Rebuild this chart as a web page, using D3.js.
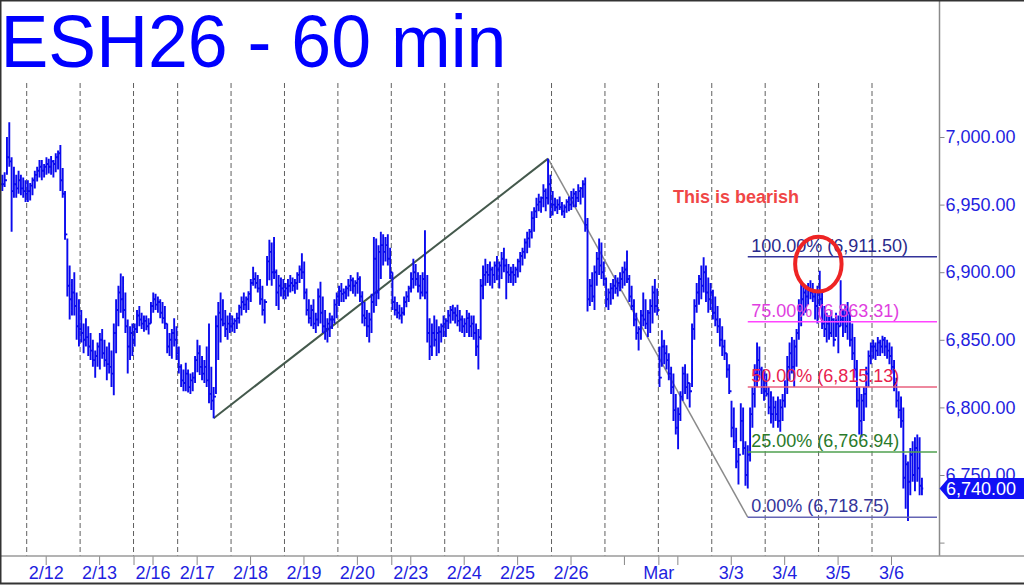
<!DOCTYPE html>
<html><head><meta charset="utf-8">
<script src="https://cdn.jsdelivr.net/npm/d3@7"></script>
<style>
body{margin:0;background:#fff}
svg{display:block}
text{font-family:"Liberation Sans",Arial,sans-serif}
</style>
</head><body>
<svg id="c" width="1024" height="585"></svg>
<script>
// ---------------- DATA ----------------
const titleText = "ESH26 - 60 min";
const sessions      = ["2/11","2/12","2/13","2/16","2/17","2/18","2/19","2/20","2/23","2/24","2/25","2/26","2/27","3/2","3/3","3/4","3/5","3/6"];
const sessionBars   = [11,23,23,19,23,23,23,23,23,23,23,23,23,23,23,23,23,22];
const dayTickLabels = [null,"2/12","2/13","2/16","2/17","2/18","2/19","2/20","2/23","2/24","2/25","2/26","","","3/3","3/4","3/5","3/6"];
const weekStartSessions = ["2/16","2/23","3/2"];
const monthLabels = {"3/2":"Mar"};

const highs = [
6972,6974,7000,7011,6985,6978,6972,6975,6972,6970,6968,
6968,6966,6970,6975,6978,6983,6983,6980,6985,6984,6986,6983,6988,6990,6994,6977,6960,6925,6905,6895,6900,6885,6880,
6872,6862,6866,6860,6855,6850,6842,6848,6855,6858,6850,6845,6848,6842,6862,6880,6890,6899,6897,6885,6865,6860,6862,
6862,6872,6875,6870,6868,6868,6866,6878,6885,6884,6882,6880,6878,6875,6862,6855,6858,6866,6860,
6845,6832,6828,6833,6828,6825,6826,6838,6850,6846,6838,6835,6845,6862,6830,6815,6868,6878,6885,6880,6872,6868,6870,
6868,6866,6870,6876,6882,6885,6882,6886,6895,6904,6900,6898,6895,6890,6880,6912,6924,6922,6926,6902,6898,6896,6895,
6892,6895,6898,6896,6895,6900,6905,6914,6908,6888,6880,6876,6880,6870,6888,6893,6882,6872,6866,6870,6868,6880,6885,
6890,6892,6888,6890,6895,6898,6896,6894,6900,6897,6886,6878,6872,6870,6884,6926,6925,6920,6930,6928,6926,6928,6918,
6900,6882,6878,6876,6874,6882,6886,6890,6900,6910,6906,6900,6898,6900,6931,6898,6866,6862,6868,6865,6860,6862,6868,
6866,6872,6875,6876,6874,6876,6872,6868,6866,6872,6870,6868,6868,6862,6858,6895,6905,6910,6906,6908,6904,6908,6912,
6908,6915,6918,6910,6906,6904,6906,6904,6910,6915,6918,6925,6930,6932,6945,6948,6955,6958,6956,6965,6962,6984,6972,
6960,6955,6954,6956,6952,6950,6954,6956,6960,6962,6960,6965,6963,6968,6970,6940,6895,6900,6905,6915,6925,6922,6908,
6896,6888,6892,6895,6898,6896,6900,6904,6908,6916,6898,6890,6880,6870,6860,6872,6885,6880,6872,6880,6890,6895,6888,
6845,6857,6850,6846,6840,6830,6825,6810,6800,6812,6830,6832,6825,6818,6862,6880,6892,6898,6905,6911,6905,6896,6892,
6887,6882,6875,6866,6860,6850,6840,6832,6805,6800,6785,6770,6803,6800,6775,6772,6800,6815,6832,6848,6845,6830,6828,
6825,6815,6812,6808,6805,6808,6806,6810,6820,6838,6848,6852,6850,6858,6880,6892,6890,6888,6892,6894,6892,6885,6890,
6901,6885,6875,6870,6868,6872,6866,6870,6868,6894,6872,6876,6878,6870,6862,6852,6835,6815,6810,6815,6830,6842,6848,
6850,6848,6852,6850,6853,6852,6850,6848,6845,6835,6822,6812,6808,6800,6765,6760,6770,6775,6778,6780,6778,6748
];
const lows = [
6960,6963,6972,6978,6930,6955,6955,6958,6957,6955,6952,
6952,6953,6957,6962,6967,6970,6968,6970,6972,6973,6972,6970,6974,6976,6960,6955,6924,6882,6865,6868,6868,6850,6845,
6848,6840,6845,6838,6835,6830,6822,6830,6828,6836,6830,6820,6825,6815,6809,6840,6860,6870,6866,6855,6825,6835,6838,
6845,6855,6860,6858,6856,6857,6854,6862,6870,6872,6870,6866,6862,6858,6840,6838,6836,6845,6835,
6825,6815,6812,6812,6811,6810,6812,6818,6826,6824,6820,6818,6815,6803,6798,6792,6810,6835,6848,6860,6852,6850,6855,
6856,6855,6858,6862,6868,6872,6870,6872,6878,6890,6888,6885,6876,6868,6862,6890,6894,6890,6895,6875,6872,6882,6880,
6880,6882,6885,6886,6884,6887,6892,6895,6880,6868,6862,6860,6858,6855,6860,6862,6855,6850,6848,6852,6858,6862,6866,
6875,6878,6878,6880,6882,6886,6884,6882,6884,6878,6862,6860,6852,6848,6855,6870,6875,6880,6895,6905,6908,6905,6895,
6872,6868,6866,6865,6862,6868,6874,6878,6885,6888,6890,6885,6880,6882,6880,6848,6835,6838,6845,6838,6840,6848,6852,
6852,6858,6862,6864,6862,6860,6856,6855,6852,6855,6852,6852,6850,6838,6828,6850,6880,6890,6892,6890,6888,6892,6894,
6888,6895,6900,6880,6892,6892,6890,6892,6896,6900,6905,6910,6914,6918,6925,6930,6940,6945,6944,6948,6945,6950,6940,
6942,6945,6943,6946,6942,6940,6944,6945,6946,6948,6948,6952,6950,6955,6930,6871,6875,6878,6872,6890,6898,6895,6890,
6874,6872,6876,6880,6884,6882,6886,6888,6890,6892,6878,6872,6860,6850,6842,6850,6860,6858,6852,6855,6862,6870,6868,
6815,6830,6832,6828,6820,6810,6790,6780,6769,6790,6805,6810,6806,6800,6815,6850,6870,6876,6880,6885,6878,6870,6872,
6865,6860,6855,6845,6838,6835,6822,6810,6778,6770,6755,6743,6775,6765,6742,6740,6760,6785,6800,6815,6822,6810,6805,
6808,6795,6788,6785,6790,6785,6782,6790,6800,6810,6820,6825,6815,6830,6850,6860,6868,6870,6876,6880,6878,6865,6862,
6875,6858,6852,6848,6850,6852,6845,6852,6840,6860,6852,6855,6850,6845,6835,6822,6800,6780,6778,6790,6800,6815,6832,
6836,6835,6838,6838,6840,6838,6836,6832,6825,6812,6800,6792,6785,6740,6725,6716,6735,6745,6738,6745,6735,6735
];
const closes = [
6965,6968,6985,6982,6960,6965,6962,6968,6962,6960,6958,
6960,6964,6968,6972,6975,6978,6975,6978,6980,6978,6982,6980,6985,6988,6968,6958,6928,6890,6880,6885,6875,6860,6858,
6855,6850,6852,6845,6842,6835,6838,6845,6850,6840,6835,6832,6830,6825,6855,6872,6885,6880,6872,6860,6845,6855,6850,
6858,6868,6865,6862,6864,6860,6862,6875,6880,6876,6878,6870,6866,6862,6845,6850,6855,6850,6840,
6830,6820,6818,6825,6815,6820,6822,6835,6840,6830,6825,6830,6820,6810,6805,6808,6860,6870,6865,6862,6858,6862,6860,
6862,6864,6866,6874,6878,6876,6880,6884,6892,6895,6892,6888,6880,6872,6878,6908,6915,6900,6900,6885,6890,6888,6886,
6888,6890,6892,6890,6892,6898,6902,6900,6885,6872,6866,6872,6862,6865,6882,6870,6860,6858,6862,6865,6865,6876,6882,
6886,6884,6885,6888,6890,6894,6890,6892,6895,6882,6868,6866,6860,6865,6878,6910,6885,6915,6920,6915,6920,6910,6900,
6878,6872,6870,6868,6870,6878,6882,6888,6895,6900,6895,6890,6885,6895,6885,6855,6845,6855,6850,6855,6856,6860,6862,
6864,6868,6872,6870,6868,6864,6865,6860,6862,6866,6860,6862,6855,6845,6852,6890,6898,6900,6898,6902,6898,6905,6902,
6905,6910,6905,6900,6898,6900,6898,6902,6908,6912,6915,6922,6925,6930,6940,6945,6950,6952,6955,6960,6955,6965,6950,
6950,6948,6950,6948,6945,6948,6952,6950,6955,6958,6955,6960,6962,6965,6935,6880,6890,6882,6900,6910,6905,6900,6895,
6880,6885,6888,6890,6888,6892,6895,6900,6902,6895,6882,6875,6865,6855,6858,6868,6865,6862,6870,6875,6885,6875,6872,
6822,6845,6840,6835,6825,6815,6798,6785,6795,6808,6825,6815,6818,6812,6858,6875,6885,6895,6890,6900,6885,6880,6885,
6870,6865,6860,6850,6845,6840,6828,6812,6785,6775,6760,6765,6790,6770,6750,6765,6795,6810,6825,6835,6828,6815,6812,
6810,6800,6795,6800,6795,6790,6800,6805,6815,6830,6840,6830,6845,6855,6875,6880,6885,6882,6888,6885,6882,6875,6885,
6880,6862,6858,6862,6855,6865,6850,6862,6860,6865,6868,6860,6870,6850,6840,6828,6805,6790,6805,6810,6825,6838,6845,
6845,6842,6848,6845,6850,6845,6842,6838,6830,6818,6805,6798,6790,6748,6758,6745,6765,6750,6770,6755,6742,6740
];

const yTickValues = [7000,6950,6900,6850,6800,6750,6700];
const yTickLabelled = [7000,6950,6900,6850,6800,6750];
const lastPrice = 6740;

const fibPercents = ["100.00%","75.00%","50.00%","25.00%","0.00%"];
const fibValues   = [6911.50,6863.31,6815.13,6766.94,6718.75];
const fibStartBar = 321;

// trend swing points: [bar index, price]
const swingLow1  = [91, 6792];
const swingHigh  = [235, 6984];
const swingLow2  = [321, 6718.75];

const noteText = "This is bearish";
const notePoint = [288.8, 6951.2];
const circleCenter = [351.4, 6906];
const circleRadius = [10, 20.3]; // bars, price points

// ---------------- STYLE ----------------
const BLUE = "#0000ff";
const BAR = "#0a0aee";
const AXIS_TXT = "#1f1fe0";
const fibLineColors = ["#33339a","#ff44ff","#e8607e","#4fa04f","#6464b4"];
const fibTextColors = ["#2a2a8c","#e03ee0","#e8224e","#2a7a2a","#34349a"];

if (highs.length !== lows.length || highs.length !== closes.length || highs.length !== d3.sum(sessionBars)) {
  throw new Error("length mismatch " + highs.length + " " + lows.length + " " + closes.length + " " + d3.sum(sessionBars));
}

// ---------------- CHART ----------------
const svg = d3.select("#c");
const W = 1024, H = 585;
const axisX = 939.5, axisY = 556;

// session start indices
const starts = [];
{ let acc = 0; sessionBars.forEach(n => { starts.push(acc); acc += n; }); }

const x = d3.scaleLinear().domain([starts[1] - 0.5, starts[17] - 0.5]).range([26.7, 872]);
const y = d3.scaleLinear().domain([6750, 7000]).range([475, 137]);

// gridlines
const gridG = svg.append("g");
for (let s = 1; s < sessions.length; s++) {
  const gx = x(starts[s] - 0.5);
  gridG.append("line").attr("x1", gx).attr("x2", gx).attr("y1", 83).attr("y2", axisY)
    .attr("stroke", "#606060").attr("stroke-width", 1).attr("stroke-dasharray", "5,3");
}

// trend lines
svg.append("line")
  .attr("x1", x(swingLow1[0])).attr("y1", y(swingLow1[1]))
  .attr("x2", x(swingHigh[0])).attr("y2", y(swingHigh[1]))
  .attr("stroke", "#44594c").attr("stroke-width", 2);
svg.append("line")
  .attr("x1", x(swingHigh[0])).attr("y1", y(swingHigh[1]))
  .attr("x2", x(swingLow2[0])).attr("y2", y(swingLow2[1]))
  .attr("stroke", "#8a8a8a").attr("stroke-width", 1.5);

// OHLC bars
let p = "";
for (let i = 0; i < highs.length; i++) {
  const bx = x(i);
  const op = i === 0 ? closes[0] : closes[i - 1];
  p += `M${bx},${y(highs[i])}V${y(lows[i])}`;
  p += `M${bx - 1.3},${y(op)}H${bx}`;
  p += `M${bx},${y(closes[i])}H${bx + 1.3}`;
}
svg.append("path").attr("d", p).attr("fill", "none").attr("stroke", BAR).attr("stroke-width", 1.9);

// fib levels
const fibG = svg.append("g");
fibValues.forEach((v, k) => {
  const fy = y(v);
  fibG.append("line").attr("x1", x(fibStartBar)).attr("x2", 937).attr("y1", fy).attr("y2", fy)
    .attr("stroke", fibLineColors[k]).attr("stroke-width", 1.5);
  fibG.append("text").attr("x", x(fibStartBar) + 3.5).attr("y", fy - 5)
    .attr("font-size", 18).attr("fill", fibTextColors[k])
    .text(`${fibPercents[k]} (${d3.format(",.2f")(v)})`);
});

// note text
svg.append("text").attr("x", x(notePoint[0])).attr("y", y(notePoint[1]))
  .attr("font-size", 18).attr("font-weight", "bold").attr("fill", "#f04646").text(noteText);

// red ellipse
svg.append("ellipse")
  .attr("cx", x(circleCenter[0])).attr("cy", y(circleCenter[1]))
  .attr("rx", x(circleCenter[0] + circleRadius[0]) - x(circleCenter[0]))
  .attr("ry", y(circleCenter[1] - circleRadius[1]) - y(circleCenter[1]))
  .attr("fill", "none").attr("stroke", "#ee2424").attr("stroke-width", 4);

// y axis
const yAxis = d3.axisRight(y).tickValues(yTickValues).tickSize(5).tickPadding(1)
  .tickFormat(d => yTickLabelled.includes(d) ? d3.format(",.2f")(d) : "");
const yG = svg.append("g").attr("transform", `translate(${axisX},0)`).call(yAxis);
yG.select(".domain").remove();
yG.selectAll("line").attr("stroke", "#888");
yG.selectAll("text").attr("font-size", 18).attr("fill", AXIS_TXT).attr("font-family", '"Liberation Sans",Arial,sans-serif');
svg.append("line").attr("x1", axisX).attr("x2", axisX).attr("y1", 0).attr("y2", axisY)
  .attr("stroke", "#8a8a8a").attr("stroke-width", 1.5);

// x axis
const xTickVals = [], xTickText = new Map();
for (let s = 1; s < sessions.length; s++) {
  const t = starts[s] + 7.68;
  xTickVals.push(t); xTickText.set(t, dayTickLabels[s]);
  if (weekStartSessions.includes(sessions[s])) {
    const w = starts[s] - 0.5;
    xTickVals.push(w); xTickText.set(w, monthLabels[sessions[s]] || "");
  }
}
const xAxis = d3.axisBottom(x).tickValues(xTickVals).tickSize(9).tickPadding(1.5).tickSizeOuter(0)
  .tickFormat(d => xTickText.get(d) || "");
const xG = svg.append("g").attr("transform", `translate(0,${axisY})`).call(xAxis);
xG.select(".domain").remove();
xG.selectAll("line").attr("stroke", "#888");
xG.selectAll("text").attr("font-size", 18).attr("fill", AXIS_TXT).attr("font-family", '"Liberation Sans",Arial,sans-serif');
svg.append("line").attr("x1", 0).attr("x2", W).attr("y1", axisY).attr("y2", axisY)
  .attr("stroke", "#9a9a9a").attr("stroke-width", 1.5);

// last price tag
const ly = y(lastPrice);
svg.append("path")
  .attr("d", `M${axisX},${ly}L${axisX + 9},${ly - 10.5}H${W}V${ly + 10.5}H${axisX + 9}Z`)
  .attr("fill", "#1010f5");
svg.append("text").attr("x", 946).attr("y", ly).attr("dy", "0.35em")
  .attr("font-size", 18).attr("fill", "#fff").text(d3.format(",.2f")(lastPrice));

// title
svg.append("text").attr("x", 0.5).attr("y", 67.4).attr("font-size", 74.5).attr("fill", BLUE)
  .attr("textLength", 506).attr("lengthAdjust", "spacingAndGlyphs").text(titleText);

// frame
svg.append("line").attr("x1", 0.75).attr("x2", 0.75).attr("y1", 0).attr("y2", 584).attr("stroke", "#333").attr("stroke-width", 1.5);
svg.append("line").attr("x1", 0).attr("x2", W).attr("y1", 0.75).attr("y2", 0.75).attr("stroke", "#333").attr("stroke-width", 1.5);
svg.append("line").attr("x1", 0).attr("x2", W).attr("y1", 583.5).attr("y2", 583.5).attr("stroke", "#333").attr("stroke-width", 2);
</script>
</body></html>
